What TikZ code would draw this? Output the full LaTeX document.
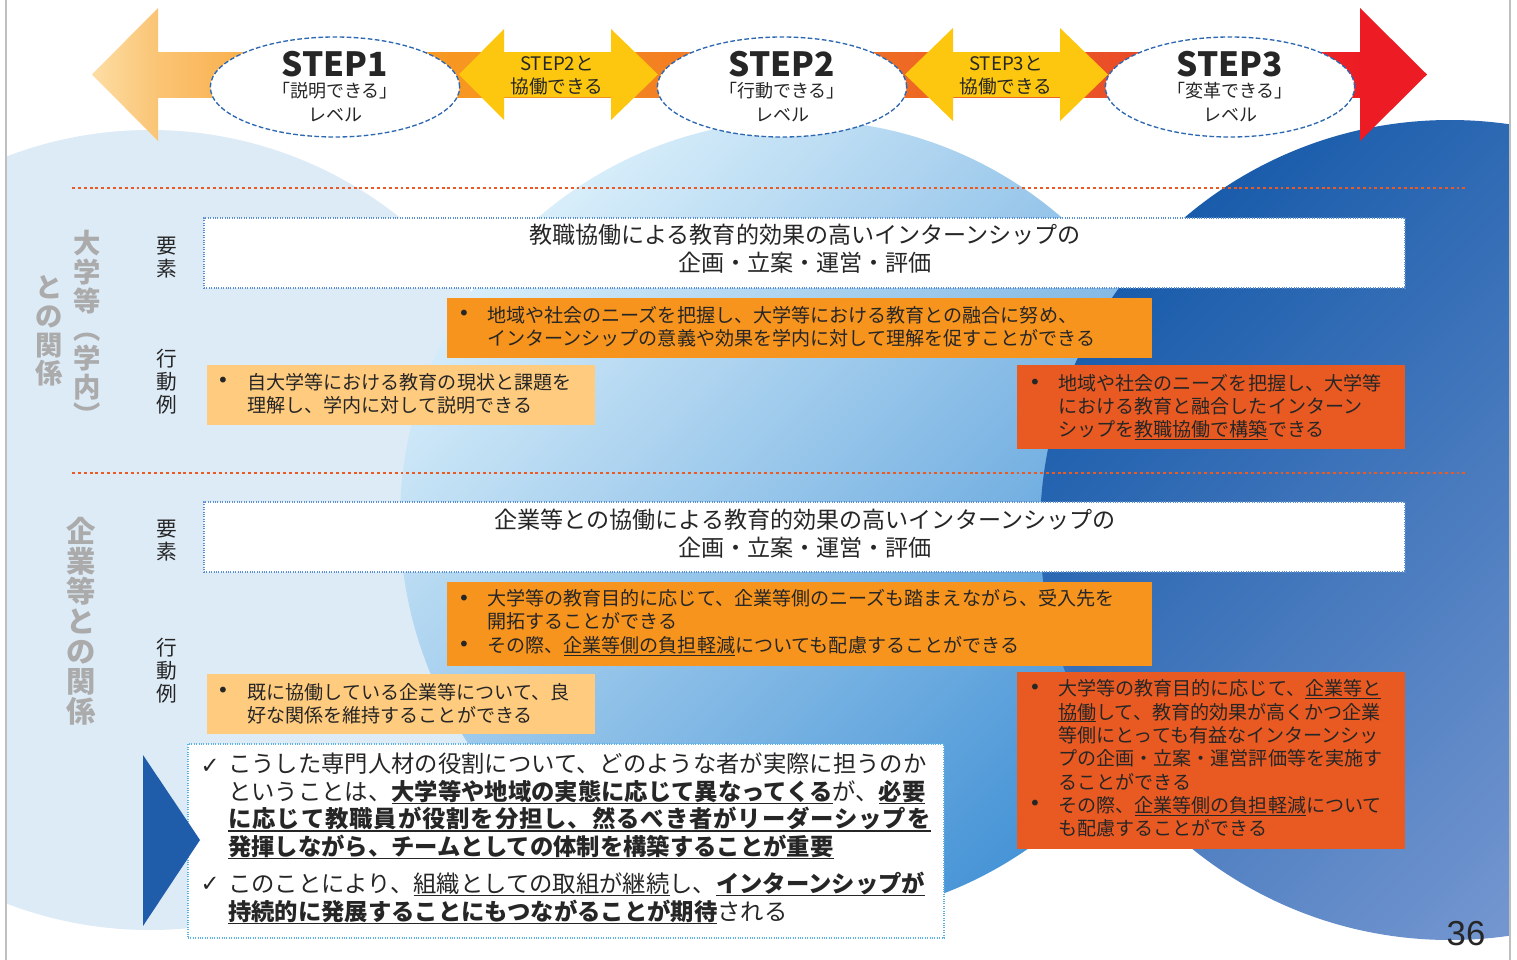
\documentclass[tikz,border=0pt]{standalone}
\usepackage{fontspec}
\setmainfont{Noto Sans CJK JP}
\newfontfamily\widefont{Noto Sans CJK JP}[LetterSpace=4.0]
\newfontfamily\symfont{DejaVu Sans}
\newfontfamily\numfont{Liberation Sans}
\newsavebox\ulbox
\newcommand\uln[1]{\sbox\ulbox{#1}\rlap{\rule[-0.17em]{\wd\ulbox}{0.055em}}\usebox\ulbox}
\usetikzlibrary{shapes.geometric,fit}
\definecolor{txt}{HTML}{262626}
\definecolor{cOr}{HTML}{F7941D}
\definecolor{cLt}{HTML}{FFCB7E}
\definecolor{cRd}{HTML}{E95A22}
\definecolor{cYe}{HTML}{FDC70F}
\definecolor{stepblue}{HTML}{2C67B1}
\definecolor{boxblue}{HTML}{5B8FD0}
\definecolor{botblue}{HTML}{59B3E6}
\definecolor{labgray}{HTML}{ABABAB}
\definecolor{dotor}{HTML}{EA5A24}
\definecolor{pale}{HTML}{DDEBF7}
\definecolor{midA}{HTML}{D8EEFA}
\definecolor{midB}{HTML}{4593D6}
\definecolor{rA}{HTML}{195CAB}
\definecolor{rB}{HTML}{7E9DD4}
\definecolor{tri}{HTML}{1F5DAA}
\definecolor{framegray}{HTML}{BFBFBF}
\definecolor{redhead}{HTML}{ED1C24}
\definecolor{lhA}{HTML}{FDDDA4}
\definecolor{lhB}{HTML}{FAC474}
\definecolor{bA}{HTML}{FBC474}
\definecolor{bB}{HTML}{F7A234}
\definecolor{bC}{HTML}{F7941D}
\definecolor{bD}{HTML}{F27B22}
\definecolor{bE}{HTML}{EE6A24}
\definecolor{bF}{HTML}{EA5127}
\definecolor{bG}{HTML}{ED1C24}
\pgfdeclarehorizontalshading{bandshade}{100bp}{color(0bp)=(bA); color(25bp)=(bA); color(31bp)=(bB); color(39bp)=(bC); color(47.5bp)=(bD); color(56bp)=(bE); color(64bp)=(bF); color(75bp)=(bG); color(100bp)=(bG)}
\begin{document}
\begin{tikzpicture}[x=0.75pt,y=-0.75pt,
  elembox/.style={draw=boxblue, densely dotted, line width=0.8pt, fill=white, inner sep=0pt},
  botbox/.style={draw=botblue, densely dotted, line width=0.8pt, fill=white, inner sep=0pt},
  orbox/.style={fill=cOr, inner sep=0pt},
  ltbox/.style={fill=cLt, inner sep=0pt},
  rdbox/.style={fill=cRd, inner sep=0pt},
  body/.style={font=\fontsize{14.3}{17.5}\selectfont, text=txt, align=left, anchor=west, inner sep=0pt},
  bul/.style={font=\symfont\fontsize{15}{15}\selectfont, text=txt, inner sep=0pt},
  etxt/.style={font=\fontsize{17.3}{20.8}\selectfont, text=txt, align=center, inner sep=0pt},
  btxt/.style={font=\fontsize{17.5}{20.7}\selectfont, text=txt, align=left, anchor=west, inner sep=0pt},
  vlab/.style={font=\fontsize{15.5}{17.3}\selectfont, text=txt, align=center, inner sep=0pt},
  glab/.style={font=\bfseries\fontsize{20.5}{21.5}\selectfont, text=labgray, align=center, inner sep=0pt},
  glabb/.style={font=\bfseries\fontsize{22}{22.5}\selectfont, text=labgray, align=center, inner sep=0pt},
  stepell/.style={ellipse, draw=stepblue, dash pattern=on 3.5pt off 1.8pt, line width=1pt, fill=white, minimum width=187pt, minimum height=75pt, inner sep=0pt},
  steptitle/.style={font=\bfseries\fontsize{25}{25}\selectfont, text=txt, inner sep=0pt},
  stepsub/.style={font=\fontsize{13.5}{13.5}\selectfont, text=txt, inner sep=0pt},
  yetxt/.style={font=\fontsize{14}{14}\selectfont, text=txt, inner sep=0pt},
  dotline/.style={dotor, line width=2.2pt, dash pattern=on 2.2pt off 2.2pt},
  ck/.style={font=\symfont\fontsize{17}{17}\selectfont, text=txt, inner sep=0pt}
]
\useasboundingbox (0,0) rectangle (1517,960);
\fill[white] (0,0) rectangle (1517,960);
% background circles
\begin{scope}
\clip (6,0) rectangle (1510,960);
\fill[pale] (150,530) circle[radius=300pt];
\shade[top color=midA, bottom color=midB, shading angle=45] (800,520) circle[radius=300pt];
\shade[top color=rA, bottom color=rB, shading angle=45] (1450,530) circle[radius=307.5pt];
\end{scope}
\draw[framegray, line width=0.8pt] (6,0) -- (6,960);
\draw[framegray, line width=0.8pt] (1510,0) -- (1510,960);
% dotted separators
\draw[dotline] (72,188) -- (1468,188);
\draw[dotline] (72,473) -- (1468,473);
% top arrow band
\shade[shading=bandshade] (158,52) rectangle (1360,97);
\shade[left color=lhA, right color=lhB] (92,74.5) -- (158,8) -- (158,141) -- cycle;
\fill[redhead] (1360,8) -- (1427,74.5) -- (1360,141) -- cycle;
% yellow double arrows
\fill[cYe] (459,74.5) -- (504,29) -- (504,52) -- (611,52) -- (611,29) -- (658,74.5) -- (611,120) -- (611,97) -- (504,97) -- (504,120) -- cycle;
\fill[cYe] (905,74.5) -- (953,28) -- (953,52) -- (1060,52) -- (1060,28) -- (1108,74.5) -- (1060,121) -- (1060,97) -- (953,97) -- (953,121) -- cycle;
\node[yetxt] (y1a) at (557,63.5) {STEP2と};
\node[yetxt] (y1b) at (557,86.5) {協働できる};
\node[yetxt] (y2a) at (1006,63.5) {STEP3と};
\node[yetxt] (y2b) at (1006,86.5) {協働できる};
% step ellipses
\node[stepell] (s1) at (335,87) {};
\node[stepell] (s2) at (782,87) {};
\node[stepell] (s3) at (1230,87) {};
\node[steptitle] (s1a) at (335,64) {STEP1};
\node[stepsub] (s1b) at (335,91) {「説明できる」};
\node[stepsub] (s1c) at (335,115) {レベル};
\node[steptitle] (s2a) at (782,64) {STEP2};
\node[stepsub] (s2b) at (782,91) {「行動できる」};
\node[stepsub] (s2c) at (782,115) {レベル};
\node[steptitle] (s3a) at (1230,64) {STEP3};
\node[stepsub] (s3b) at (1230,91) {「変革できる」};
\node[stepsub] (s3c) at (1230,115) {レベル};
% left labels
\node[glab] (g1) at (87,328) {大\\学\\等\\︵\\学\\内\\︶};
\node[glab] (g2) at (49,331) {と\\の\\関\\係};
\node[glabb] (g3) at (81,621) {企\\業\\等\\と\\の\\関\\係};
\node[vlab] (v1) at (167,258) {要\\素};
\node[vlab] (v2) at (167,382) {行\\動\\例};
\node[vlab] (v3) at (167,541) {要\\素};
\node[vlab] (v4) at (167,671) {行\\動\\例};
% upper section boxes
\node[elembox, fit={(204,218) (1405,288)}] (bA) {};
\node[etxt] (tA) at (805,249) {教職協働による教育的効果の高いインターンシップの\\企画・立案・運営・評価};
\node[orbox, fit={(447,298) (1152,358)}] (bB) {};
\node[bul] (uB) at (464,315) {•};
\node[body] (tB) at (487,327) {地域や社会のニーズを把握し、大学等における教育との融合に努め、\\インターンシップの意義や効果を学内に対して理解を促すことができる};
\node[ltbox, fit={(207,365) (595,425)}] (bC) {};
\node[bul] (uC) at (223,382) {•};
\node[body] (tC) at (247,393.5) {自大学等における教育の現状と課題を\\理解し、学内に対して説明できる};
\node[rdbox, fit={(1017,365) (1405,449)}] (bD) {};
\node[bul] (uD) at (1035,384) {•};
\node[body] (tD) at (1058,407) {地域や社会のニーズを把握し、大学等\\における教育と融合したインターン\\シップを\uln{教職協働で構築}できる};
% lower section boxes
\node[elembox, fit={(204,502) (1405,572)}] (bE) {};
\node[etxt] (tE) at (805,534) {企業等との協働による教育的効果の高いインターンシップの\\企画・立案・運営・評価};
\node[orbox, fit={(447,582) (1152,666)}] (bF) {};
\node[bul] (uF1) at (464,600) {•};
\node[bul] (uF2) at (464,646) {•};
\node[body] (tF) at (487,622.5) {大学等の教育目的に応じて、企業等側のニーズも踏まえながら、受入先を\\開拓することができる\\その際、\uln{企業等側の負担軽減}についても配慮することができる};
\node[ltbox, fit={(207,674) (595,734)}] (bG) {};
\node[bul] (uG) at (223,692) {•};
\node[body] (tG) at (247,704) {既に協働している企業等について、良\\好な関係を維持することができる};
\node[rdbox, fit={(1017,672) (1405,849)}] (bH) {};
\node[bul] (uH1) at (1035,689) {•};
\node[bul] (uH2) at (1035,805) {•};
\node[body] (tH) at (1058,758.5) {大学等の教育目的に応じて、\uln{企業等と}\\\uln{協働}して、教育的効果が高くかつ企業\\等側にとっても有益なインターンシッ\\プの企画・立案・運営評価等を実施す\\ることができる\\その際、\uln{企業等側の負担軽減}について\\も配慮することができる};
% bottom summary box
\node[botbox, fit={(188,744) (944,938)}] (bZ) {};
\fill[tri] (143,755) -- (200,840) -- (143,926) -- cycle;
\node[ck] (c1) at (210,766) {✓};
\node[ck] (c2) at (210,884) {✓};
\node[btxt] (tZ1) at (228,806) {こうした専門人材の役割について、どのような者が実際に担うのか\\ということは、\uln{\bfseries 大学等や地域の実態に応じて異なってくる}が、\uln{\bfseries 必要}\\\uln{\widefont\bfseries に応じて教職員が役割を分担し、然るべき者がリーダーシップを}\\\uln{\bfseries 発揮しながら、チームとしての体制を構築することが重要}};
\node[btxt] (tZ2) at (228,898) {このことにより、\uln{組織としての取組が継続}し、\uln{\bfseries インターンシップが}\\\uln{\bfseries 持続的に発展することにもつながることが期待}される};
% page number
\node[font=\numfont\fontsize{26}{26}\selectfont, text=txt, inner sep=0pt] (pn) at (1466,934) {36};
\end{tikzpicture}
\end{document}
